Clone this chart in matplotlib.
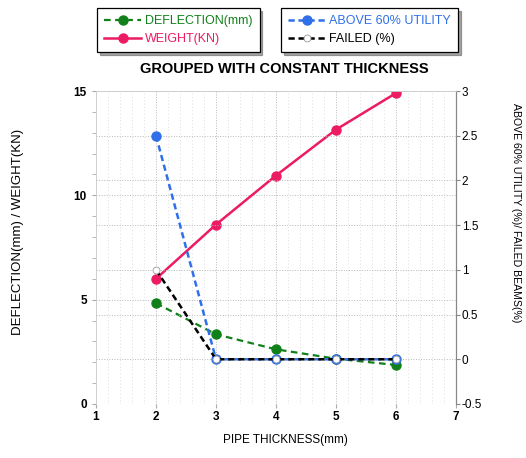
import numpy as np
import matplotlib.pyplot as plt
from matplotlib.ticker import MultipleLocator, FormatStrFormatter

# pipe thickness values on the x axis
thickness = [2, 3, 4, 5, 6]

# left axis series
deflection = [4.83, 3.34, 2.62, 2.17, 1.87]
weight = [6.0, 8.6, 10.95, 13.15, 14.9]

# right axis series
above_60 = [2.5, 0, 0, 0, 0]
failed = [1.0, 0, 0, 0, 0]

green = '#12801a'
pink = '#ec1b63'
blue = '#2f6fea'

plt.rcParams['font.family'] = ['Liberation Sans', 'DejaVu Sans']

fig = plt.figure(figsize=(5.26, 4.58), dpi=100)
ax1 = fig.add_axes([96 / 526, 1 - 404 / 458, 360 / 526, 313 / 458])
ax2 = ax1.twinx()

# grid: vertical major + minor, horizontal from both axes
ax1.set_xlim(1, 7)
ax1.set_ylim(0, 15)
ax1.xaxis.set_major_locator(MultipleLocator(1))
ax1.xaxis.set_minor_locator(MultipleLocator(0.2))
ax1.yaxis.set_major_locator(MultipleLocator(5))
ax1.yaxis.set_minor_locator(MultipleLocator(1))
ax1.grid(True, which='major', axis='both', linestyle=':', color='#b8b8b8', linewidth=0.7)
ax1.grid(True, which='minor', axis='x', linestyle=(0, (1, 3)), color='#d4d4d4', linewidth=0.6)

ax2.set_ylim(-0.5, 3)
ax2.yaxis.set_major_locator(MultipleLocator(0.5))
ax2.yaxis.set_major_formatter(FormatStrFormatter('%g'))
ax2.grid(True, which='major', axis='y', linestyle=':', color='#b8b8b8', linewidth=0.7)

l_def, = ax1.plot(thickness, deflection, '--o', color=green, lw=1.6, ms=6.5,
                  dashes=(3, 2), label='DEFLECTION(mm)')
l_wt, = ax1.plot(thickness, weight, '-o', color=pink, lw=1.8, ms=6.5,
                 label='WEIGHT(KN)', zorder=5)

l_ab, = ax2.plot(thickness, above_60, '--o', color=blue, lw=1.8, ms=6.5,
                 dashes=(2.5, 1.5), label='ABOVE 60% UTILITY')
l_fl, = ax2.plot(thickness, failed, '--o', color='black', lw=1.8, ms=5,
                 dashes=(2.5, 1.5), markerfacecolor='white', markeredgecolor='#999999',
                 markeredgewidth=0.6, label='FAILED (%)')

for a in (ax1, ax2):
    for side in ('top', 'left', 'bottom'):
        a.spines[side].set_color('#d0d0d0')
        a.spines[side].set_linewidth(0.6)
    a.spines['right'].set_color('#888888')
    a.spines['right'].set_linewidth(0.8)
ax1.spines['bottom'].set_visible(False)
ax2.spines['bottom'].set_visible(False)

ax1.tick_params(axis='both', which='both', length=3, color='#aaaaaa', labelsize=8.5)
ax1.tick_params(axis='x', which='minor', length=0)
ax1.tick_params(axis='x', pad=2)
ax2.tick_params(axis='y', length=3, color='#888888', labelsize=8.5, pad=1)
for lab in ax1.get_xticklabels() + ax1.get_yticklabels():
    lab.set_fontweight('bold')

ax1.set_xlabel('PIPE THICKNESS(mm)', fontsize=8.5)
ax1.xaxis.set_label_coords(0.525, -0.095)
ax1.set_ylabel('DEFLECTION(mm) / WEIGHT(KN)', fontsize=9.5)
ax1.yaxis.set_label_coords(-0.2, 0.55)
ax2.set_ylabel('ABOVE 60% UTILITY (%)/ FAILED BEAMS(%)', fontsize=7.6, rotation=-90)
ax2.yaxis.set_label_coords(1.18, 0.61)

fig.text(284 / 526, 1 - 69 / 458, 'GROUPED WITH CONSTANT THICKNESS',
         ha='center', va='center', fontsize=10.5, fontweight='bold')

for handles, x0 in (([l_def, l_wt], 97), ([l_ab, l_fl], 281)):
    leg = fig.legend(handles=handles, loc='upper left',
                     bbox_to_anchor=(x0 / 526, 1 - 8 / 458),
                     fontsize=9, labelcolor='linecolor', frameon=True,
                     fancybox=False, edgecolor='black', framealpha=1,
                     handlelength=3.0, handletextpad=0.3, borderpad=0.55,
                     labelspacing=0.5, borderaxespad=0, shadow=True)
    leg.get_frame().set_linewidth(0.9)

fig.savefig('out.png', dpi=100)
